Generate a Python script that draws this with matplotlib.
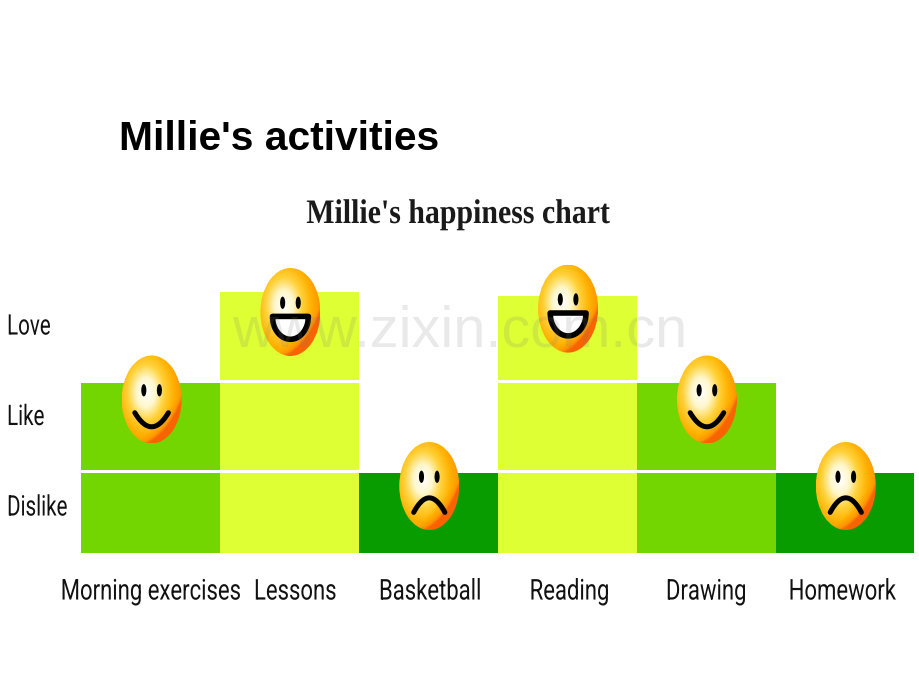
import numpy as np
import matplotlib
matplotlib.use("Agg")
import matplotlib.pyplot as plt
from matplotlib.patches import Ellipse, Polygon
from matplotlib.colors import LinearSegmentedColormap
from matplotlib.patheffects import AbstractPathEffect
from matplotlib.transforms import Affine2D

activities = ["Morning exercises", "Lessons", "Basketball", "Reading", "Drawing", "Homework"]
happiness = [2.0, 3.0, 1.0, 2.96, 2.0, 1.0]
face_kinds = ["smile", "grin", "frown", "grin", "smile", "frown"]
level_labels = ["Dislike", "Like", "Love"]
level_values = [1, 2, 3]
bar_colors = ["#74D600", "#DDFF33", "#089C00", "#DDFF33", "#74D600", "#089C00"]
label_nudge = [0.0, 0.04, 0.01, 0.015, 0.0, -0.02]
face_drop_px = [17, 20, 13, 13, 17, 13]
title = "Millie's activities"
chart_title = "Millie's happiness chart"
watermark = "www.zixin.com.cn"


class TallText(AbstractPathEffect):
    """Stretch glyphs vertically about the baseline (the original lettering is condensed)."""
    def __init__(self, k):
        super().__init__()
        self.k = k

    def draw_path(self, renderer, gc, tpath, affine, rgbFace=None):
        renderer.draw_path(gc, tpath, Affine2D().scale(1, self.k) + affine, rgbFace)


W, H = 920, 690
fig = plt.figure(figsize=(W / 100, H / 100), dpi=100, facecolor="white")
L, R, B, T = 81.5, 914.5, 553, 250
ax = fig.add_axes([L / W, 1 - B / H, (R - L) / W, (B - T) / H])
ax.patch.set_alpha(0)
unit_y = 90.5
base = 1 - (553 - 473) / unit_y
xlim = (-0.5, 5.5)
ylim = (base, base + (B - T) / unit_y)
unit_x = (R - L) / 6
gap = 3 / unit_y

for i, (v, c) in enumerate(zip(happiness, bar_colors)):
    lo = base
    for lev in level_values:
        if lev - 1 >= v - 0.5:
            break
        top = min(lev, v) if lev < 3 else v
        ax.bar(i, top - lo, bottom=lo, width=1.0, color=c, linewidth=0, zorder=1)
        lo = lev + gap

ax.set_xticks([i + d for i, d in enumerate(label_nudge)])
ax.set_xticklabels(activities, fontsize=15.9, family="Roboto", color="#111111",
                   path_effects=[TallText(1.3)])
ax.set_yticks([l - 0.387 for l in level_values])
ax.set_yticklabels(level_labels, fontsize=14.8, family="Roboto", color="#111111", ha="left",
                   path_effects=[TallText(1.38)])
ax.tick_params(axis="x", length=0, pad=22)
ax.tick_params(axis="y", length=0, pad=53.6)
for s in ax.spines.values():
    s.set_visible(False)

cmap = LinearSegmentedColormap.from_list(
    "face", [(0, "#FFFFFF"), (0.24, "#FFF7CC"), (0.46, "#FFD23A"), (0.7, "#FFB000"),
             (0.9, "#FF9500"), (1, "#F86400")])
n = 200
vv, uu = np.mgrid[1:-1:n * 1j, -1:1:n * 1j]
glow = np.hypot(uu + 0.2, (vv - 0.15) * 0.95) / 1.22
red = np.clip((uu * 0.6 - vv * 0.8 - 0.5) / 0.55, 0, 1)
shade = np.clip(glow * 0.92 + red * 0.4, 0, 1)

RX, RY = 30 / unit_x, 44 / unit_y


def draw_face(i, v, kind, drop):
    cx, cy = i + 0.005, v - drop / unit_y
    pt = lambda u, w: (cx + u * RX, cy + w * RY)
    clip = Ellipse((cx, cy), 2 * RX, 2 * RY, facecolor="none", edgecolor="none", zorder=3)
    ax.add_patch(clip)
    im = ax.imshow(shade, cmap=cmap, vmin=0, vmax=1, aspect="auto", zorder=3,
                   extent=[cx - RX, cx + RX, cy - RY, cy + RY], interpolation="bilinear")
    im.set_clip_path(clip)
    for u in (-0.26, 0.26):
        ax.add_patch(Ellipse(pt(u, 0.21), 0.17 * RX, 0.28 * RY, color="black", lw=0, zorder=5))
    t = np.linspace(-1, 1, 60)
    if kind == "smile":
        x, y = pt(0.56 * t, -0.62 + 0.32 * t ** 2)
        ax.plot(x, y, color="black", lw=3.6, solid_capstyle="round", zorder=5)
    elif kind == "frown":
        x, y = pt(0.52 * t, -0.27 - 0.33 * t ** 2)
        ax.plot(x, y, color="black", lw=3.6, solid_capstyle="round", zorder=5)
    else:
        x, y = pt(0.6 * t, -0.1 - 0.52 * np.sqrt(1 - t ** 2))
        ax.add_patch(Polygon(np.column_stack([x, y]), closed=True, facecolor="white",
                             edgecolor="black", lw=4.0, joinstyle="round", zorder=5))


for i, (v, k, d) in enumerate(zip(happiness, face_kinds, face_drop_px)):
    draw_face(i, v, k, d)

ax.set_xlim(*xlim)
ax.set_ylim(*ylim)

fig.text(119 / W, 1 - 150 / H, title, fontsize=29.3, fontweight="bold",
         family="Liberation Sans", color="black", ha="left", va="baseline")
fig.text(458.5 / W, 1 - 223 / H, chart_title, fontsize=21.5, fontweight="bold",
         family="Liberation Serif", color="#1a1a1a", ha="center", va="baseline",
         path_effects=[TallText(1.15)])
fig.text(460 / W, 1 - 347 / H, watermark, fontsize=41.5, family="Liberation Sans",
         color="#808080", alpha=0.17, ha="center", va="baseline", zorder=10)

fig.savefig("out.png", dpi=100, facecolor="white")
